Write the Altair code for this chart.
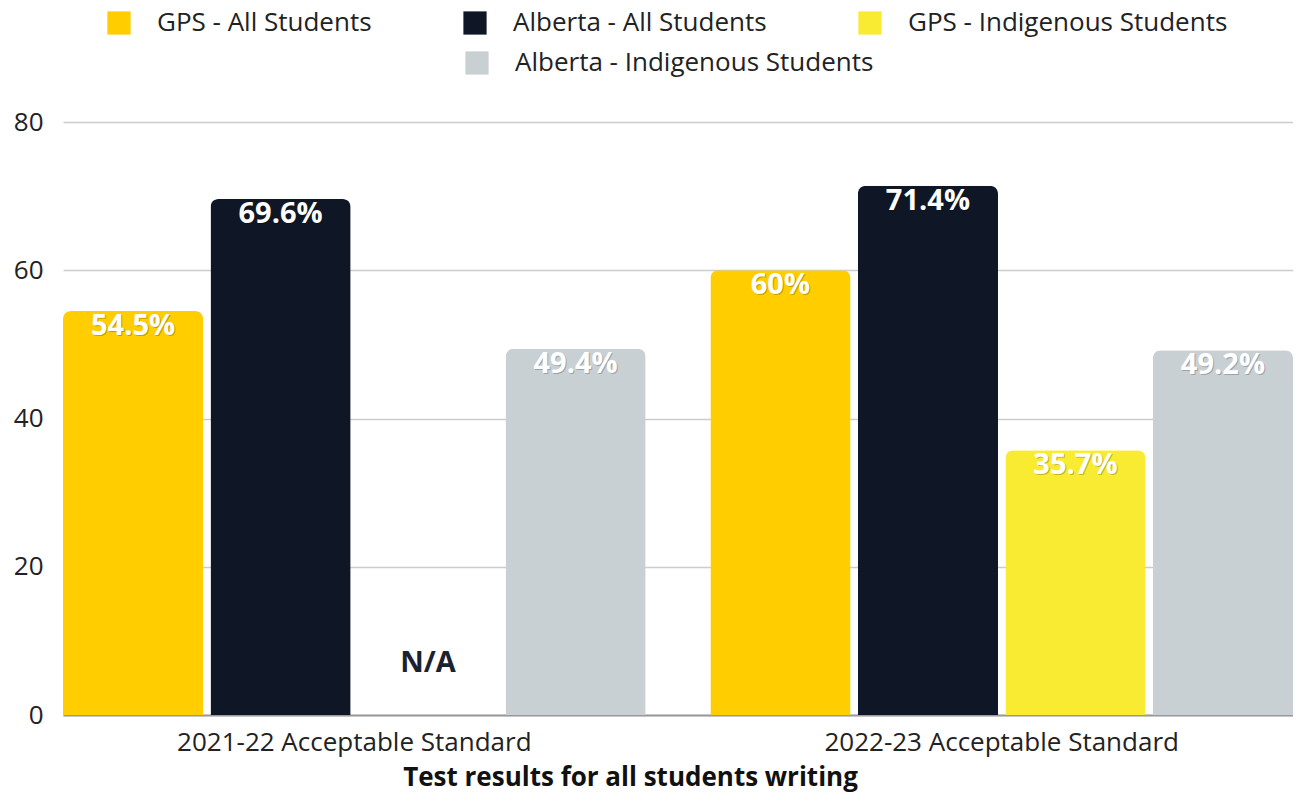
import altair as alt
import pandas as pd

categories = ["2021-22 Acceptable Standard", "2022-23 Acceptable Standard"]
series = [
    "GPS - All Students",
    "Alberta - All Students",
    "GPS - Indigenous Students",
    "Alberta - Indigenous Students",
]
gps_all = [54.5, 60.0]
alberta_all = [69.6, 71.4]
gps_indigenous = [None, 35.7]
alberta_indigenous = [49.4, 49.2]
colors = ["#FFCD00", "#0F1726", "#F9EB32", "#C9D0D4"]
y_ticks = [0, 20, 40, 60, 80]

rows = []
for i, cat in enumerate(categories):
    for s, vals in zip(series, [gps_all, alberta_all, gps_indigenous, alberta_indigenous]):
        v = vals[i]
        rows.append({
            "category": cat,
            "series": s,
            "value": v,
            "label": (f"{v:g}%" if v is not None else "N/A"),
            "missing": v is None,
        })
df = pd.DataFrame(rows)
valid = df[~df["missing"]].drop(columns=["missing"]).copy()
missing = df[df["missing"]].drop(columns=["missing", "value"]).copy()

FONT = "Open Sans"
AX = 26
LBL = 29

x_enc = alt.X(
    "category:N",
    sort=categories,
    scale=alt.Scale(domain=categories, paddingInner=0.1, paddingOuter=0),
    axis=alt.Axis(
        title="Test results for all students writing",
        labelAngle=0,
        labelFontSize=AX,
        labelColor="#222222",
        labelPadding=14,
        ticks=False,
        domain=True,
        domainColor="#9a9a9a",
        domainWidth=2,
        grid=False,
        titleFontSize=AX,
        titleFontWeight="bold",
        titleColor="#111111",
        titleX=567,
        titleY=70,
        titleAlign="center",
        titleBaseline="alphabetic",
        labelLimit=600,
    ),
)
xo_enc = alt.XOffset(
    "series:N",
    sort=series,
    scale=alt.Scale(domain=series, paddingInner=0.05, paddingOuter=0),
)
y_enc = alt.Y(
    "value:Q",
    scale=alt.Scale(domain=[0, 80]),
    axis=alt.Axis(
        title=None,
        values=y_ticks,
        grid=True,
        gridColor="#cccccc",
        gridWidth=1.5,
        domain=False,
        ticks=False,
        labelFontSize=AX,
        labelColor="#222222",
        labelPadding=20,
    ),
)

bar_style = dict(cornerRadiusTopLeft=8, cornerRadiusTopRight=8)

legend_common = dict(
    title=None,
    orient="none",
    direction="horizontal",
    symbolType="square",
    symbolSize=540,
    symbolStrokeWidth=0,
    labelFontSize=AX,
    labelColor="#222222",
    labelOffset=25,
    labelLimit=700,
)

bars_a = (
    alt.Chart(valid)
    .transform_filter(alt.FieldOneOfPredicate(field="series", oneOf=series[:3]))
    .mark_bar(**bar_style)
    .encode(
        x=x_enc,
        xOffset=xo_enc,
        y=y_enc,
        color=alt.Color(
            "series:N",
            sort=series[:3],
            scale=alt.Scale(domain=series[:3], range=colors[:3]),
            legend=alt.Legend(legendX=43, legendY=-112, columns=3, columnPadding=90,
                              **legend_common),
        ),
    )
)

bars_b = (
    alt.Chart(valid)
    .transform_filter(alt.FieldOneOfPredicate(field="series", oneOf=series[3:]))
    .mark_bar(**bar_style)
    .encode(
        x=x_enc,
        xOffset=xo_enc,
        y=y_enc,
        color=alt.Color(
            "series:N",
            scale=alt.Scale(domain=series[3:], range=colors[3:]),
            legend=alt.Legend(legendX=401, legendY=-72, **legend_common),
        ),
    )
)

shadow = (
    alt.Chart(valid)
    .mark_text(font=FONT, fontSize=LBL, fontWeight="bold", baseline="middle", dy=16, dx=1,
               color="#000000", opacity=0.22)
    .encode(x=x_enc, xOffset=xo_enc, y=y_enc, text="label:N")
)

labels = (
    alt.Chart(valid)
    .mark_text(font=FONT, fontSize=LBL, fontWeight="bold", baseline="middle", dy=15,
               color="#ffffff")
    .encode(x=x_enc, xOffset=xo_enc, y=y_enc, text="label:N")
)

na_label = (
    alt.Chart(missing)
    .mark_text(font=FONT, fontSize=LBL, fontWeight="bold", baseline="middle", dy=-52,
               color="#1a2130")
    .encode(x=x_enc, xOffset=xo_enc, y=alt.datum(0), text="label:N")
)

chart = (
    alt.layer(bars_a, bars_b, shadow, labels, na_label)
    .resolve_scale(color="independent")
    .properties(
        width=1230,
        height=593,
        padding={"left": 55, "top": 114, "right": 0, "bottom": 78},
        autosize=alt.AutoSizeParams(type="none"),
        background="#ffffff",
    )
    .configure(font=FONT)
    .configure_view(stroke=None)
)

chart.save("out.html", embed_options={"renderer": "svg", "actions": False})
